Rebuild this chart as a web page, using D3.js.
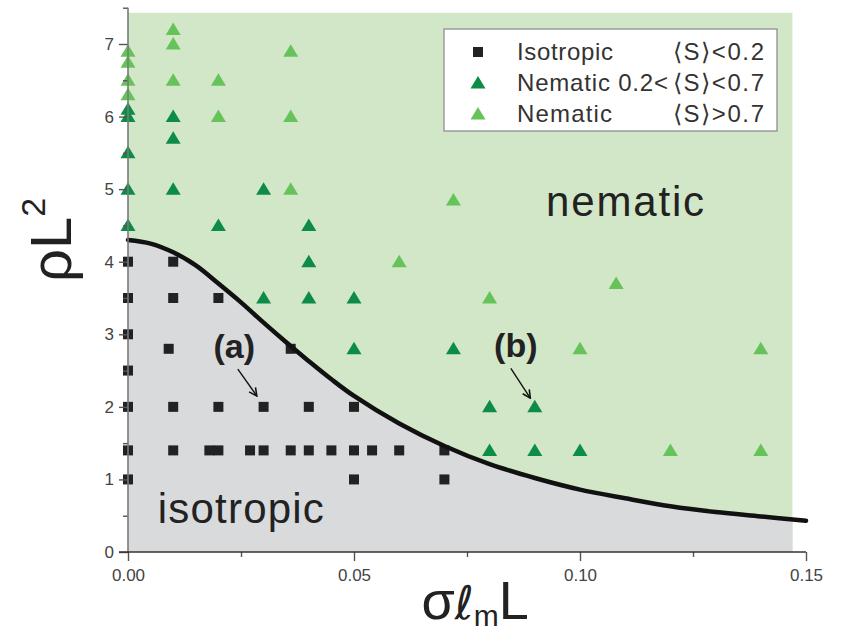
<!DOCTYPE html>
<html>
<head>
<meta charset="utf-8">
<script src="https://cdn.jsdelivr.net/npm/d3@7/dist/d3.min.js"></script>
<style>
  html, body { margin: 0; padding: 0; background: #fff; }
  svg { display: block; font-family: "Liberation Sans", Arial, Helvetica, sans-serif; }
</style>
</head>
<body>
<svg id="chart" width="842" height="635"></svg>
<script>
// ---------- data ----------
const xTicks = [0, 0.05, 0.10, 0.15];
const xMinorTicks = [0.025, 0.075, 0.125];
const yTicks = [0, 1, 2, 3, 4, 5, 6, 7];
const yMinorTicks = [0.5, 1.5, 2.5, 3.5, 4.5, 5.5, 6.5, 7.5];

// phase boundary
const boundaryX = [0, 0.005, 0.01, 0.015, 0.02, 0.025, 0.03, 0.035, 0.04, 0.045, 0.05, 0.06, 0.07, 0.08, 0.09, 0.10, 0.11, 0.12, 0.13, 0.14, 0.15];
const boundaryY = [4.30, 4.25, 4.13, 3.95, 3.70, 3.44, 3.16, 2.89, 2.63, 2.38, 2.15, 1.77, 1.46, 1.21, 1.02, 0.86, 0.74, 0.63, 0.55, 0.49, 0.43];

// Isotropic <S> < 0.2
const isoX = [0, 0.01, 0, 0.01, 0.02, 0, 0.009, 0.036, 0, 0, 0.01, 0.02, 0.03, 0.04, 0.05,
              0, 0.01, 0.018, 0.02, 0.027, 0.03, 0.036, 0.04, 0.045, 0.05, 0.054, 0.06, 0.07, 0, 0.05, 0.07];
const isoY = [4, 4, 3.5, 3.5, 3.5, 3, 2.8, 2.8, 2.5, 2, 2, 2, 2, 2, 2,
              1.4, 1.4, 1.4, 1.4, 1.4, 1.4, 1.4, 1.4, 1.4, 1.4, 1.4, 1.4, 1.4, 1, 1, 1];

// Nematic 0.2 < <S> < 0.7
const nemMidX = [0, 0, 0, 0, 0, 0.01, 0.01, 0.01, 0.02, 0.03, 0.03, 0.04, 0.04, 0.04, 0.05, 0.05, 0.072, 0.08, 0.09, 0.08, 0.09, 0.10];
const nemMidY = [4.5, 5, 5.5, 6, 6.1, 5, 5.7, 6, 4.5, 5, 3.5, 4.5, 4, 3.5, 3.5, 2.8, 2.8, 2, 2, 1.4, 1.4, 1.4];

// Nematic <S> > 0.7
const nemHighX = [0, 0, 0, 0, 0.01, 0.01, 0.01, 0.02, 0.02, 0.036, 0.036, 0.036, 0.06, 0.072, 0.08, 0.10, 0.108, 0.12, 0.14, 0.14];
const nemHighY = [6.3, 6.5, 6.75, 6.9, 6.5, 7.0, 7.2, 6.5, 6, 6.9, 6, 5, 4, 4.85, 3.5, 2.8, 3.7, 1.4, 1.4, 2.8];

const legendLabels = ["Isotropic", "Nematic 0.2<", "Nematic"];
const legendConds = ["\u27E8S\u27E9<0.2", "\u27E8S\u27E9<0.7", "\u27E8S\u27E9>0.7"];

// ---------- layout ----------
const svg = d3.select("#chart");
const x = d3.scaleLinear().domain([0, 0.15]).range([128, 806]);
const y = d3.scaleLinear().domain([0, 7]).range([552, 44]);
const bgXMax = 0.147, bgYMax = 7.43;

const cGreenBg = "#d2e7c7", cGrayBg = "#d9dadc";
const cDark = "#0c8c46", cLight = "#66c35a", cSquare = "#222";

// backgrounds
svg.append("rect")
  .attr("x", x(0)).attr("y", y(bgYMax))
  .attr("width", x(bgXMax) - x(0)).attr("height", y(0) - y(bgYMax))
  .attr("fill", cGreenBg);

svg.append("clipPath").attr("id", "bgclip").append("rect")
  .attr("x", x(0)).attr("y", y(bgYMax))
  .attr("width", x(bgXMax) - x(0)).attr("height", y(0) - y(bgYMax));

const boundary = boundaryX.map((v, i) => [v, boundaryY[i]]);
svg.append("path")
  .datum(boundary)
  .attr("clip-path", "url(#bgclip)")
  .attr("fill", cGrayBg)
  .attr("d", d3.area().x(d => x(d[0])).y0(y(0)).y1(d => y(d[1])).curve(d3.curveCatmullRom));

// data points
const tri = (cx, cy) => `M${cx},${cy - 7}L${cx + 7.5},${cy + 5.5}L${cx - 7.5},${cy + 5.5}Z`;

svg.append("g").selectAll("path")
  .data(nemHighX.map((v, i) => [v, nemHighY[i]]))
  .join("path").attr("d", d => tri(x(d[0]), y(d[1]))).attr("fill", cLight);

svg.append("g").selectAll("path")
  .data(nemMidX.map((v, i) => [v, nemMidY[i]]))
  .join("path").attr("d", d => tri(x(d[0]), y(d[1]))).attr("fill", cDark);

svg.append("g").selectAll("rect")
  .data(isoX.map((v, i) => [v, isoY[i]]))
  .join("rect")
  .attr("x", d => x(d[0]) - 5).attr("y", d => y(d[1]) - 5)
  .attr("width", 10).attr("height", 10).attr("fill", cSquare);

// boundary curve
svg.append("path")
  .datum(boundary)
  .attr("fill", "none").attr("stroke", "#111").attr("stroke-width", 4.5)
  .attr("stroke-linecap", "round")
  .attr("d", d3.line().x(d => x(d[0])).y(d => y(d[1])).curve(d3.curveCatmullRom));

// ---------- axes ----------
const axisColor = "#555";
const yAxisG = svg.append("g").attr("transform", `translate(${x(0)},0)`)
  .call(d3.axisLeft(y).tickValues(yTicks).tickSize(9).tickSizeOuter(0).tickPadding(5).tickFormat(d3.format("d")));
yAxisG.select(".domain").remove();
const yMinorG = svg.append("g").attr("transform", `translate(${x(0)},0)`)
  .call(d3.axisLeft(y).tickValues(yMinorTicks).tickSize(5).tickFormat(""));
yMinorG.select(".domain").remove();
svg.append("line")
  .attr("x1", x(0)).attr("x2", x(0)).attr("y1", y(0)).attr("y2", y(7.5))
  .attr("stroke", "#7a7a7a").attr("stroke-width", 1.6);

const xAxisG = svg.append("g").attr("transform", `translate(0,${y(0)})`)
  .call(d3.axisBottom(x).tickValues(xTicks).tickSize(9).tickSizeOuter(0).tickPadding(8).tickFormat(d3.format(".2f")));
xAxisG.select(".domain").remove();
const xMinorG = svg.append("g").attr("transform", `translate(0,${y(0)})`)
  .call(d3.axisBottom(x).tickValues(xMinorTicks).tickSize(5).tickFormat(""));
xMinorG.select(".domain").remove();
svg.append("line")
  .attr("x1", x(0) - 9).attr("x2", x(0.15)).attr("y1", y(0)).attr("y2", y(0))
  .attr("stroke", "#333").attr("stroke-width", 1.6);

svg.selectAll(".tick line").attr("stroke", axisColor).attr("stroke-width", 1.4);
svg.selectAll(".tick text")
  .attr("font-family", "'Liberation Sans', Arial, sans-serif")
  .attr("font-size", 17).attr("fill", "#444");

// axis titles
const yTitle = svg.append("text")
  .attr("transform", `translate(71,${y(4.3)}) rotate(-90)`)
  .attr("text-anchor", "middle")
  .attr("font-size", 58).attr("fill", "#222");
yTitle.append("tspan").text("\u03C1L");
yTitle.append("tspan").attr("font-size", 34).attr("dy", -26).text("2");

const xTitle = svg.append("text")
  .attr("x", x(0.0768)).attr("y", 619)
  .attr("text-anchor", "middle")
  .attr("font-size", 54).attr("fill", "#222");
xTitle.append("tspan").text("\u03C3");
xTitle.append("tspan").attr("font-family", "'DejaVu Sans', sans-serif").attr("font-size", 46).text("\u2113");
xTitle.append("tspan").attr("font-size", 30).attr("dy", 7).text("m");
xTitle.append("tspan").attr("dy", -7).text("L");

// region labels
svg.append("text").attr("x", x(0.0925)).attr("y", y(4.63))
  .attr("font-size", 42).attr("fill", "#222").attr("textLength", 158).text("nematic");
svg.append("text").attr("x", x(0.0066)).attr("y", y(0.40))
  .attr("font-size", 42).attr("fill", "#222").attr("textLength", 166).text("isotropic");

// annotations
svg.append("defs").append("marker")
  .attr("id", "arrow").attr("viewBox", "0 0 10 10").attr("refX", 9).attr("refY", 5)
  .attr("markerWidth", 7).attr("markerHeight", 7).attr("orient", "auto")
  .append("path").attr("d", "M1,1L9,5L1,9").attr("fill", "none").attr("stroke", "#111").attr("stroke-width", 1.6);

const annos = [
  { label: "(a)", tx: 0.0235, ty: 2.68, x1: 0.0243, y1: 2.52, x2: 0.0285, y2: 2.15 },
  { label: "(b)", tx: 0.0858, ty: 2.69, x1: 0.0847, y1: 2.53, x2: 0.0890, y2: 2.12 }
];
annos.forEach(a => {
  svg.append("text").attr("x", x(a.tx)).attr("y", y(a.ty))
    .attr("text-anchor", "middle").attr("font-size", 34).attr("font-weight", "bold")
    .attr("fill", "#222").text(a.label);
  svg.append("line").attr("x1", x(a.x1)).attr("y1", y(a.y1)).attr("x2", x(a.x2)).attr("y2", y(a.y2))
    .attr("stroke", "#111").attr("stroke-width", 1.4).attr("marker-end", "url(#arrow)");
});

// ---------- legend ----------
const lg = svg.append("g");
lg.append("rect").attr("x", 444).attr("y", 29).attr("width", 333).attr("height", 102)
  .attr("fill", "#fff").attr("stroke", "#888").attr("stroke-width", 1.2);
const rowY = [52, 83, 114];
lg.append("rect").attr("x", 478 - 5).attr("y", rowY[0] - 5).attr("width", 10).attr("height", 10).attr("fill", cSquare);
lg.append("path").attr("d", tri(478, rowY[1])).attr("fill", cDark);
lg.append("path").attr("d", tri(478, rowY[2])).attr("fill", cLight);
const labelLen = [96, 151, 95];
legendLabels.forEach((t, i) => {
  lg.append("text").attr("x", 517).attr("y", rowY[i] + 7.5)
    .attr("font-size", 24).attr("fill", "#333").attr("textLength", labelLen[i]).text(t);
  lg.append("text").attr("x", 673).attr("y", rowY[i] + 7.5)
    .attr("font-size", 24).attr("fill", "#333").attr("textLength", 91).text(legendConds[i]);
});
</script>
</body>
</html>
